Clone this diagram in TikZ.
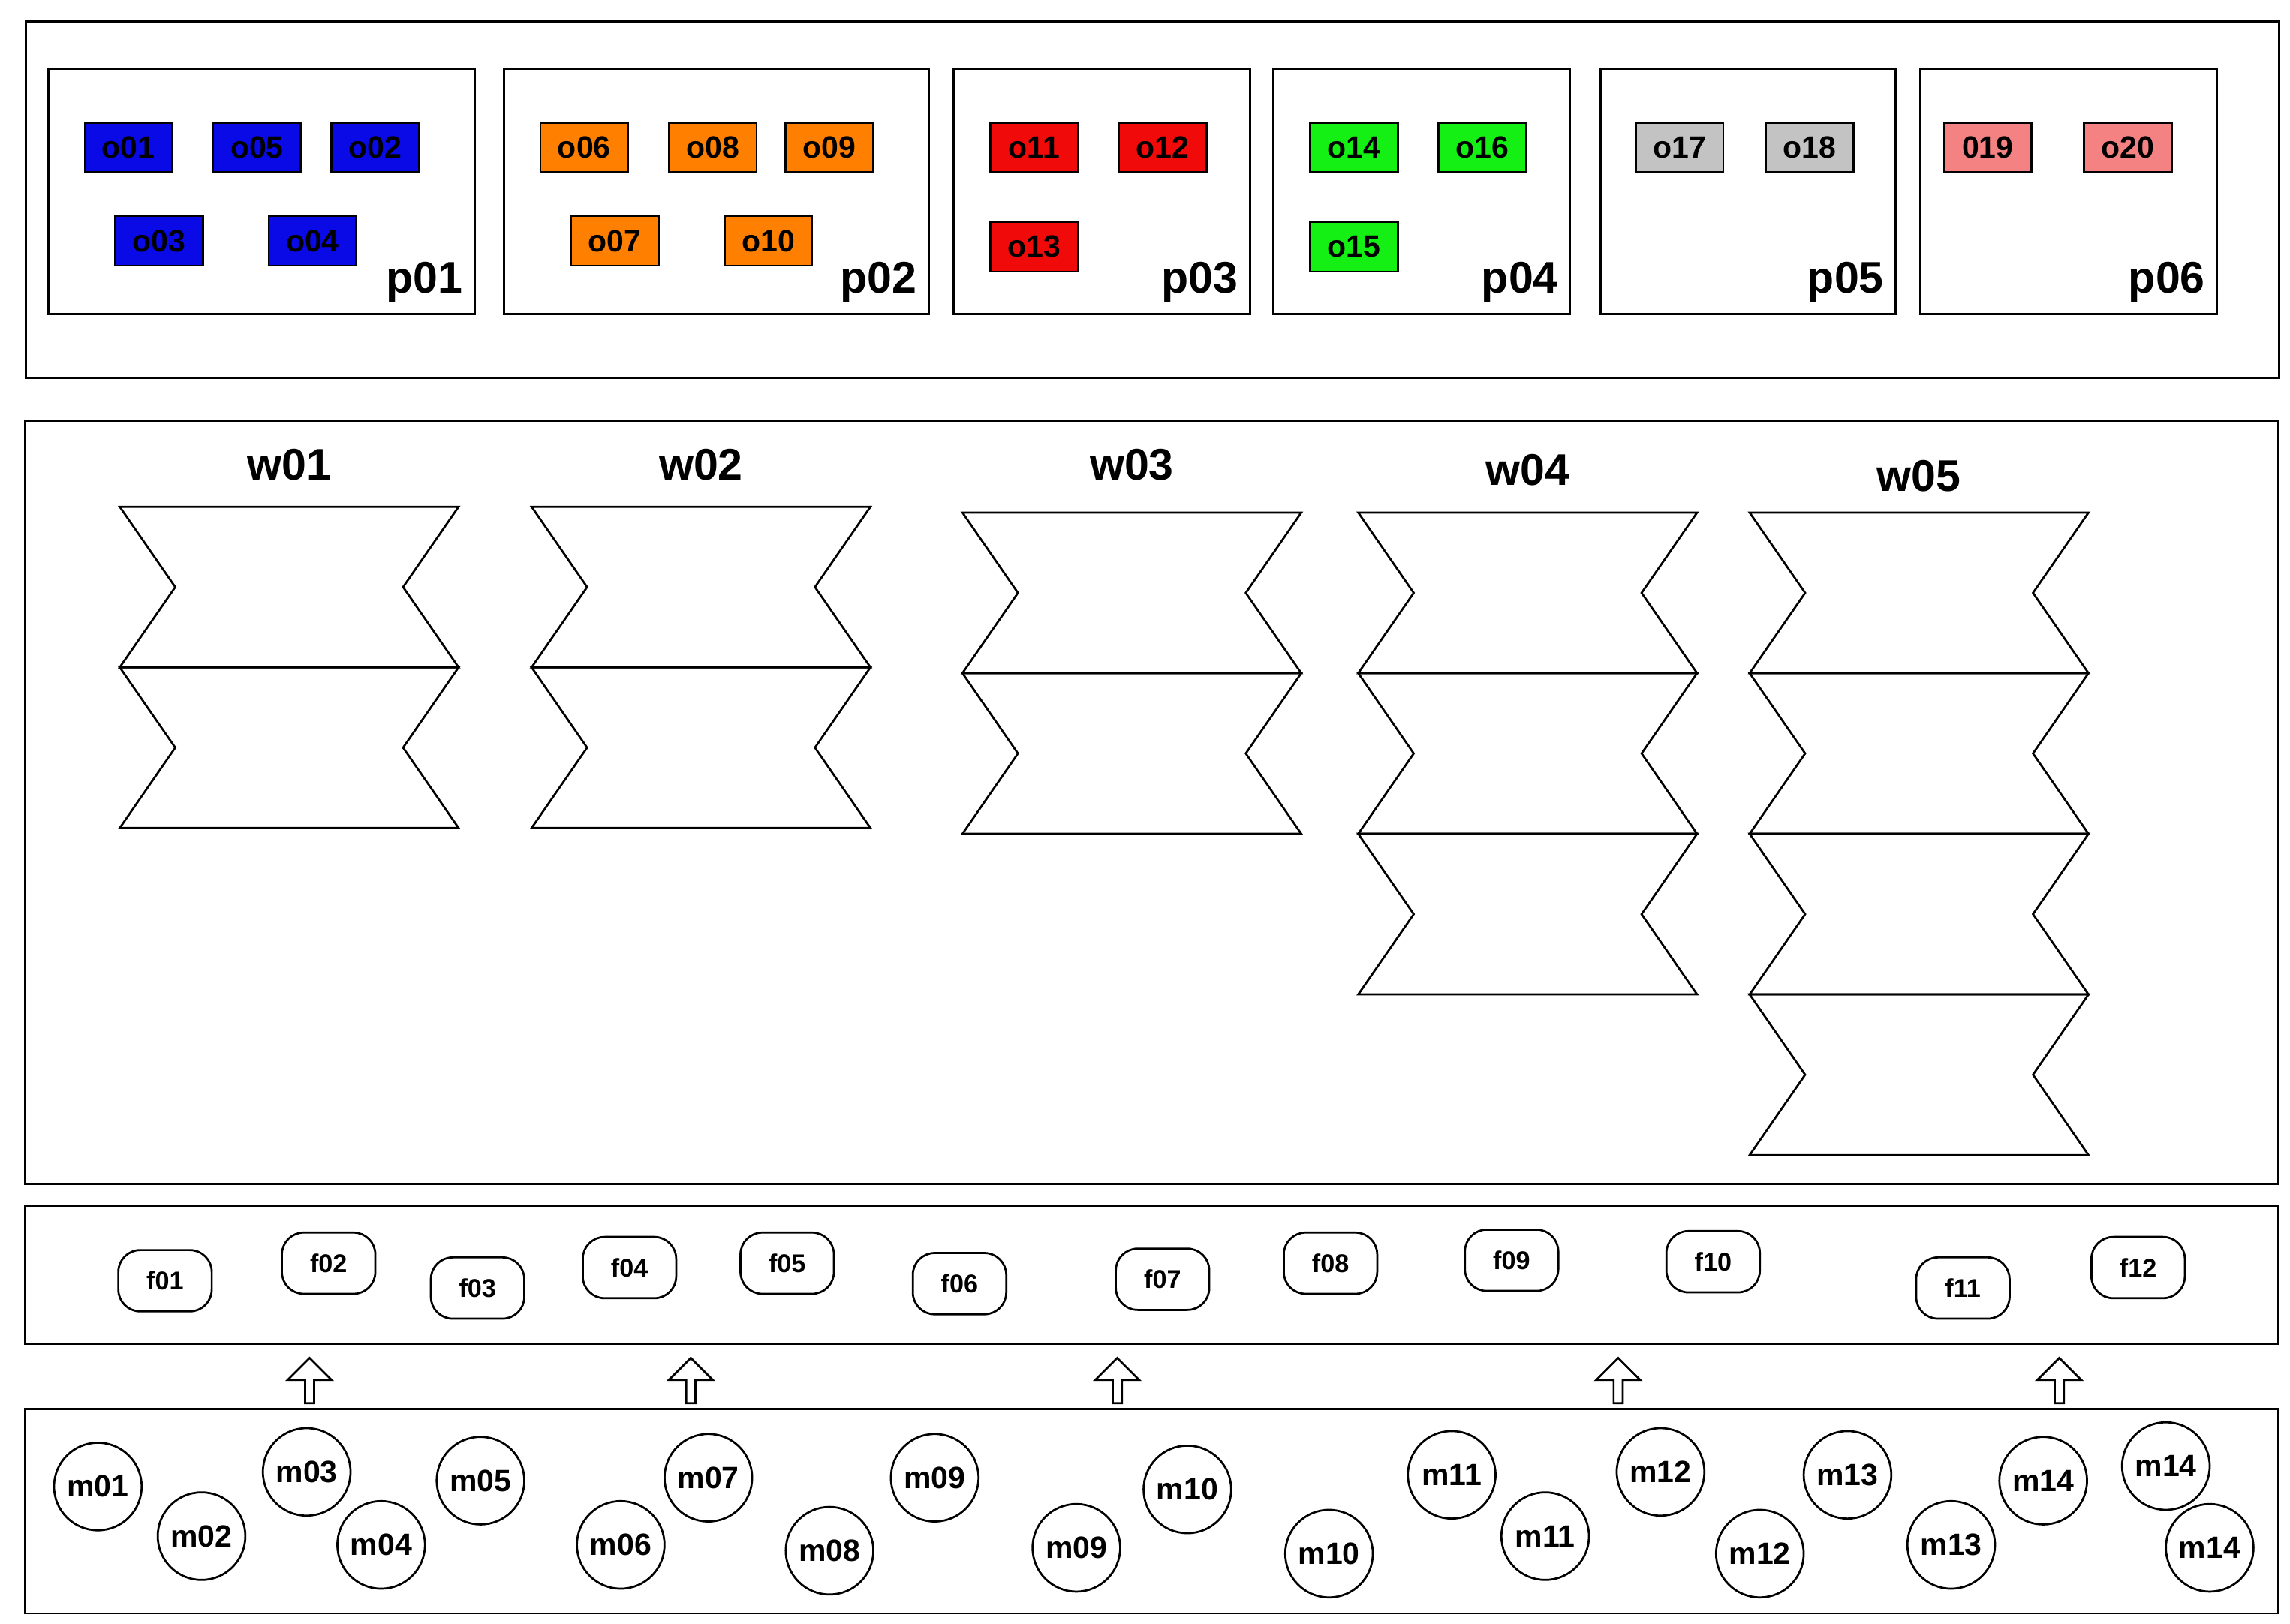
\documentclass[tikz,border=0pt]{standalone}
\usepackage{fontspec}
\setmainfont{Liberation Sans}
\usepackage{tikz}
\usetikzlibrary{shapes,arrows,positioning}

\definecolor{oblue}{RGB}{10,10,230}
\definecolor{oorange}{RGB}{255,128,0}
\definecolor{ored}{RGB}{240,10,10}
\definecolor{ogreen}{RGB}{20,240,20}
\definecolor{ogray}{RGB}{195,195,195}
\definecolor{opink}{RGB}{245,130,130}

\begin{document}
\begin{tikzpicture}[
    x=0.02cm, y=-0.02cm,
    panel/.style={draw, thick, rectangle},
    obj/.style={draw, thick, rectangle, minimum width=1.2cm, minimum height=0.68cm, inner sep=0pt, font=\bfseries\large},
    plabel/.style={font=\bfseries\LARGE, anchor=south east},
    wlabel/.style={font=\bfseries\LARGE},
    fnode/.style={draw, thick, rounded corners=0.3cm, minimum width=1.28cm, minimum height=0.84cm, inner sep=0pt, font=\bfseries},
    mnode/.style={draw, thick, circle, minimum size=1.2cm, inner sep=0pt, font=\bfseries\large},
    uparrow/.style={draw, thick, single arrow, fill=white, rotate=90, minimum width=0.6cm, single arrow head extend=0.12cm, minimum height=0.62cm, inner sep=0.5pt}
]
\useasboundingbox (0,0) rectangle (1568,1112);

% top panel
\node[panel, minimum width=30.86cm, minimum height=4.88cm, anchor=north west] (top) at (17,14) {};
\foreach \name/\xa/\xb in {p01/33/325, p02/345/636, p03/653/856, p04/872/1075, p05/1096/1298, p06/1315/1518}{
  \draw[thick] (\xa,47) rectangle (\xb,215);
  \node[plabel] (\name) at (\xb-2,213) {\name};
}
\foreach \name/\px/\py/\col in {o01/88/101/oblue, o05/176/101/oblue, o02/257/101/oblue, o03/109/165/oblue, o04/214/165/oblue,
  o06/400/101/oorange, o08/488/101/oorange, o09/568/101/oorange, o07/421/165/oorange, o10/526/165/oorange,
  o11/708/101/ored, o12/796/101/ored, o13/708/169/ored,
  o14/927/101/ogreen, o16/1015/101/ogreen, o15/927/169/ogreen,
  o17/1150/101/ogray, o18/1239/101/ogray, 019/1361/101/opink, o20/1457/101/opink}
  \node[obj, fill=\col] (n\name) at (\px,\py) {\name};

% middle panel
\draw[thick] (17,288) rectangle (1560,811);
\foreach \name/\px/\ly/\top/\n in {w01/82/318/347/2, w02/364/318/347/2, w03/659/318/351/2, w04/930/322/351/3, w05/1198/326/351/4}{
  \node[wlabel] (\name) at (\px+116,\ly) {\name};
  \foreach \k in {1,...,\n}{
    \pgfmathsetmacro\ya{\top+110*(\k-1)}
    \draw[thick] (\px,\ya) -- (\px+232,\ya) -- (\px+194,\ya+55) -- (\px+232,\ya+110)
      -- (\px,\ya+110) -- (\px+38,\ya+55) -- cycle;
  }
}

% f panel
\draw[thick] (17,826) rectangle (1560,920);
\foreach \name/\px/\py in {f01/113/877, f02/225/865, f03/327/882, f04/431/868, f05/539/865, f06/657/879,
  f07/796/876, f08/911/865, f09/1035/863, f10/1173/864, f11/1344/882, f12/1464/868}
  \node[fnode] (\name) at (\px,\py) {\name};

% arrows
\foreach \px [count=\i] in {212,473,765,1108,1410}
  \node[uparrow] (a\i) at (\px,947) {};

% m panel
\draw[thick] (17,965) rectangle (1560,1105);
\foreach \name/\px/\py [count=\i] in {m01/67/1018, m02/138/1052, m03/210/1008, m04/261/1058, m05/329/1014,
  m06/425/1058, m07/485/1012, m08/568/1062, m09/640/1012, m09/737/1060, m10/813/1020, m10/910/1064,
  m11/994/1010, m11/1058/1052, m12/1137/1008, m12/1205/1064, m13/1265/1010, m13/1336/1058,
  m14/1399/1014, m14/1483/1004, m14/1513/1060}
  \node[mnode] (c\i) at (\px,\py) {\name};

\end{tikzpicture}
\end{document}
